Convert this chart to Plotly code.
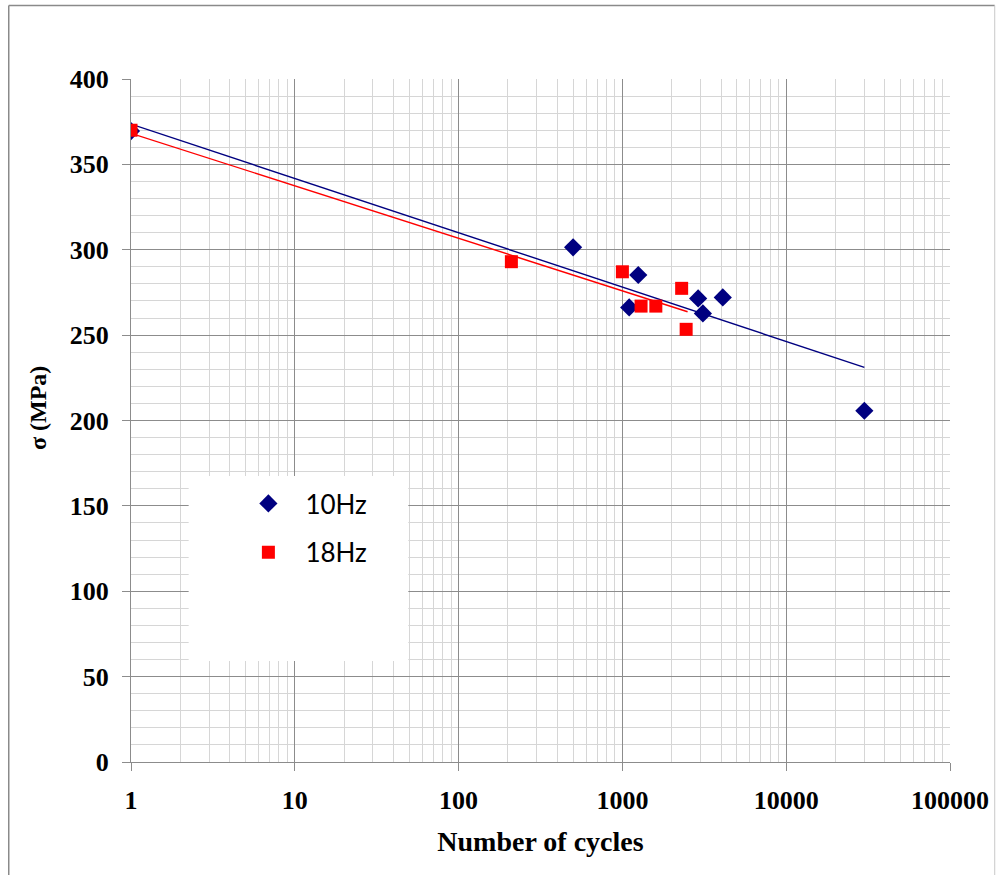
import plotly.graph_objects as go

# ---- data ----
cycles_10hz = [1, 500, 1100, 1250, 2900, 3100, 4100, 30000]
stress_10hz = [369.5, 301.4, 266.2, 285.2, 271.5, 262.7, 272.1, 205.7]

cycles_18hz = [1, 210, 1000, 1300, 1600, 2300, 2450]
stress_18hz = [370, 293.0, 287.1, 267.0, 267.0, 277.4, 253.4]

# logarithmic trendline end points
trend_10hz_x = [1, 30000]
trend_10hz_y = [373.6, 231.1]
trend_18hz_x = [1, 2500]
trend_18hz_y = [368.2, 263.7]

x_ticks = [1, 10, 100, 1000, 10000, 100000]
x_ticklabels = ["1", "10", "100", "1000", "10000", "100000"]
y_ticks = [0, 50, 100, 150, 200, 250, 300, 350, 400]

NAVY = "#000080"
RED = "#ff0000"
MAJOR = "#8c8c8c"
MINOR = "#d6d6d6"

fig = go.Figure()

fig.add_trace(go.Scatter(x=trend_10hz_x, y=trend_10hz_y, mode="lines",
                         line=dict(color=NAVY, width=1.4), showlegend=False, hoverinfo="skip"))
fig.add_trace(go.Scatter(x=trend_18hz_x, y=trend_18hz_y, mode="lines",
                         line=dict(color=RED, width=1.4), showlegend=False, hoverinfo="skip"))
fig.add_trace(go.Scatter(x=cycles_10hz, y=stress_10hz, mode="markers", name="10Hz",
                         legendgroup="a",
                         marker=dict(symbol="diamond", size=14, color=NAVY)))
fig.add_trace(go.Scatter(x=cycles_18hz, y=stress_18hz, mode="markers", name="18Hz",
                         legendgroup="b",
                         marker=dict(symbol="square", size=13, color=RED)))

L, R, T, B = 131, 46, 79, 113
W, H = 1001, 875
PW, PH = W - L - R, H - T - B


def px(xp):
    return (xp - L) / PW


def py(yp):
    return (H - B - yp) / PH


shapes = [
    # outer chart frame (left, top, right)
    dict(type="line", xref="paper", yref="paper", x0=px(8), x1=px(8), y0=py(5.5), y1=py(880),
         line=dict(color="#8a8a8a", width=1.5)),
    dict(type="line", xref="paper", yref="paper", x0=px(8), x1=px(1000), y0=py(5.5), y1=py(5.5),
         line=dict(color="#8a8a8a", width=1.5)),
    dict(type="line", xref="paper", yref="paper", x0=px(1000), x1=px(1000), y0=py(5.5), y1=py(880),
         line=dict(color="#c8c8c8", width=1)),
    # white legend box covering the grid
    dict(type="rect", xref="paper", yref="paper", x0=px(189), x1=px(410), y0=py(661), y1=py(476),
         fillcolor="white", line=dict(width=0), layer="above"),
]

annotations = [
    dict(text="σ (MPa)", xref="paper", yref="paper", x=px(37.5), y=py(408),
         xanchor="center", yanchor="middle", textangle=-90, showarrow=False,
         font=dict(family="Liberation Serif", size=24, color="black", weight="bold")),
]

fig.update_layout(
    width=W, height=H,
    margin=dict(l=L, r=R, t=T, b=B),
    paper_bgcolor="white", plot_bgcolor="white",
    shapes=shapes,
    annotations=annotations,
    showlegend=True,
    legend=dict(x=px(232), y=py(480), xanchor="left", yanchor="top",
                bgcolor="rgba(0,0,0,0)", font=dict(family="Lato", size=26, color="black"),
                itemwidth=64, tracegroupgap=12, traceorder="grouped"),
    xaxis=dict(type="log", range=[0, 5], tickvals=x_ticks, ticktext=x_ticklabels,
               showgrid=True, gridcolor=MAJOR, gridwidth=1,
               minor=dict(dtick="D1", showgrid=True, gridcolor=MINOR, gridwidth=1, ticks=""),
               ticks="outside", ticklen=8, tickcolor=MAJOR, tickwidth=1,
               showline=True, linecolor=MAJOR, linewidth=1, zeroline=False,
               ticklabelstandoff=7,
               tickfont=dict(family="Liberation Serif", size=26, color="black", weight="bold"),
               title=dict(text="Number of cycles", standoff=17,
                          font=dict(family="Liberation Serif", size=28, color="black", weight="bold"))),
    yaxis=dict(range=[0, 400], tickvals=y_ticks,
               showgrid=True, gridcolor=MAJOR, gridwidth=1,
               minor=dict(dtick=10, showgrid=True, gridcolor=MINOR, gridwidth=1, ticks=""),
               ticks="outside", ticklen=8, tickcolor=MAJOR, tickwidth=1,
               showline=True, linecolor=MAJOR, linewidth=1, zeroline=False,
               ticklabelstandoff=8,
               tickfont=dict(family="Liberation Serif", size=26, color="black", weight="bold")),
)

fig.write_html("out.html")
